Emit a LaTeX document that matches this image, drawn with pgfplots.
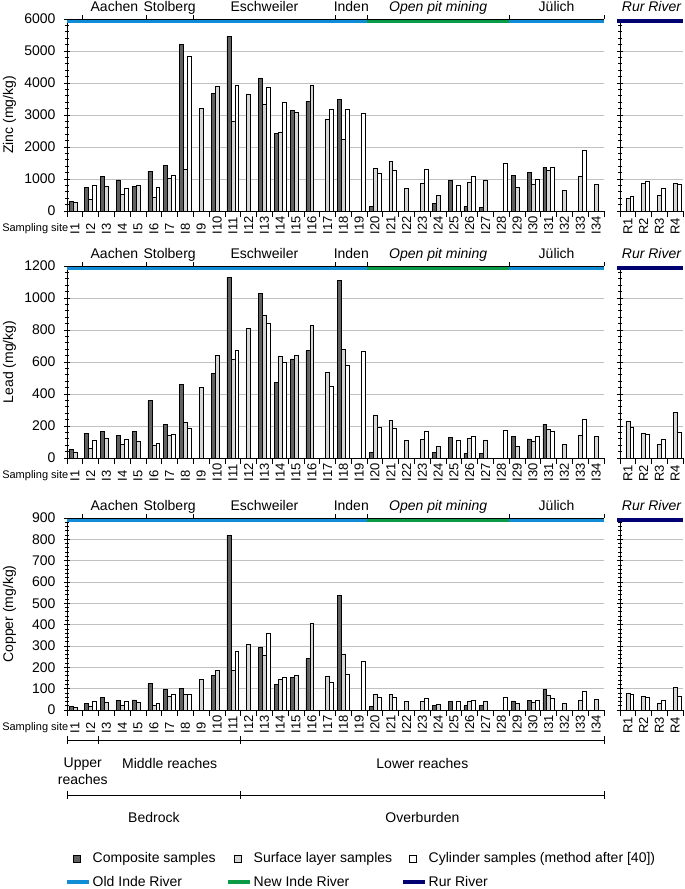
\documentclass[border=0pt]{standalone}
\usepackage{fontspec}
\setmainfont{Liberation Sans}
\usepackage{pgfplots}
\pgfplotsset{compat=1.18}
\definecolor{comp}{HTML}{606060}
\definecolor{surf}{HTML}{D6D6D6}
\definecolor{gridc}{HTML}{C0C0C0}
\definecolor{oldinde}{HTML}{118CD6}
\definecolor{newinde}{HTML}{0B9A46}
\definecolor{rurriver}{HTML}{000070}
\newcommand\fa{\fontsize{14bp}{17bp}\selectfont}
\newcommand\fb{\fontsize{13bp}{15bp}\selectfont}
\newcommand\fc{\fontsize{11bp}{13bp}\selectfont}

\pgfplotsset{
  panel/.style={
    scale only axis, anchor=south west, height=192bp,
    ymin=0, clip=false,
    ybar, bar width=0.25,
    axis x line*=bottom, axis y line*=left,
    axis line style={line width=0.8bp},
    ymajorgrids, major grid style={draw=gridc, line width=1bp},
    tick align=center, major tick length=6bp, minor tick length=4bp,
    tick style={black, line width=0.8bp},
    major x tick style={yshift=-3bp},
    minor y tick num=4,
    x tick label as interval,
    xticklabel style={font=\fb, yshift=-24bp, rotate=90, anchor=west},
    yticklabel style={font=\fa, xshift=-5bp},
    /pgf/number format/assume math mode=true,
    /pgf/number format/1000 sep={},
    every axis y label/.style={at={(axis description cs:0,0.5)}, xshift=-57.5bp, rotate=90, anchor=center, font=\fa},
  },
  ipanel/.style={panel, width=537bp, xmin=0.5, xmax=34.5,
    xtick={0.5,1.5,...,34.5},
    xticklabels={I1,I2,I3,I4,I5,I6,I7,I8,I9,I10,I11,I12,I13,I14,I15,I16,I17,
      I18,I19,I20,I21,I22,I23,I24,I25,I26,I27,I28,I29,I30,I31,I32,I33,I34}},
  rpanel/.style={panel, width=63bp, xmin=0.5, xmax=4.5,
    xtick={0.5,1.5,...,4.5}, xticklabels={R1,R2,R3,R4}, yticklabels={}},
  compbar/.style={fill=comp, draw=black, line width=0.6bp, bar shift=-0.25,
    legend image code/.code={\path[draw=none, fill=none] (0bp,-3.5bp) rectangle (22bp,3.5bp);
      \draw[fill=comp, draw=black, line width=0.6bp] (6bp,-3.5bp) rectangle (13bp,3.5bp);}},
  surfbar/.style={fill=surf, draw=black, line width=0.6bp, bar shift=0,
    legend image code/.code={\path[draw=none, fill=none] (0bp,-3.5bp) rectangle (22bp,3.5bp);
      \draw[fill=surf, draw=black, line width=0.6bp] (6bp,-3.5bp) rectangle (13bp,3.5bp);}},
  cylbar/.style={fill=white, draw=black, line width=0.6bp, bar shift=0.25,
    legend image code/.code={\path[draw=none, fill=none] (0bp,-3.5bp) rectangle (22bp,3.5bp);
      \draw[fill=white, draw=black, line width=0.6bp] (6bp,-3.5bp) rectangle (13bp,3.5bp);}},
  riverline/.style={legend image code/.code={\path[draw=none, fill=none] (0bp,-3.5bp) rectangle (22bp,3.5bp);
      \draw[#1, line width=4bp] (0bp,0bp) -- (22bp,0bp);}},
}

% river bands and town names along the top of an Inde panel
\newcommand\topdeco[1]{%
  \draw[oldinde, line width=4bp] ([yshift=-2bp]axis cs:0.5,#1) -- ([yshift=-2bp]axis cs:19.5,#1);
  \draw[newinde, line width=4bp] ([yshift=-2bp]axis cs:19.5,#1) -- ([yshift=-2bp]axis cs:28.5,#1);
  \draw[oldinde, line width=4bp] ([yshift=-2bp]axis cs:28.5,#1) -- ([yshift=-2bp]axis cs:34.5,#1);
  \draw[line width=0.8bp] (axis cs:0.5,#1) -- (axis cs:34.5,#1);
  \pgfplotsinvokeforeach{1,5,8,17,19,28,34}{\draw[line width=0.8bp] (axis cs:##1.5,#1) -- ([yshift=4bp]axis cs:##1.5,#1);}
  \node[font=\fa, anchor=base] at ([yshift=8bp]axis cs:3.5,#1) {Aachen};
  \node[font=\fa, anchor=base] at ([yshift=8bp]axis cs:7,#1) {Stolberg};
  \node[font=\fa, anchor=base] at ([yshift=8bp]axis cs:13,#1) {Eschweiler};
  \node[font=\fa, anchor=base] at ([yshift=8bp]axis cs:18.5,#1) {Inden};
  \node[font=\fa\itshape, anchor=base] at ([yshift=8bp]axis cs:24,#1) {Open pit mining};
  \node[font=\fa, anchor=base] at ([yshift=8bp]axis cs:31.5,#1) {Jülich};
  \node[font=\fc, anchor=east, inner sep=0pt] at ([xshift=1.5bp,yshift=-18bp]axis cs:0.5,0) {Sampling site};
}
\newcommand\rurdeco[1]{%
  \draw[rurriver, line width=4bp] ([xshift=-3bp,yshift=-2bp]axis cs:0.5,#1) -- ([yshift=-2bp]axis cs:4.5,#1);
  \node[font=\fa\itshape, anchor=base] at ([yshift=8bp]axis cs:2.5,#1) {Rur River};
}

\begin{document}
\begin{tikzpicture}
\path[use as bounding box] (0,0) rectangle (685bp,-889bp);

% ---------------- zinc ----------------
\begin{axis}[ipanel, at={(67bp,-211bp)}, ymax=6000, ytick={0,1000,...,6000}, ylabel={Zinc (mg/kg)}]
\addplot[compbar] coordinates {(1,300) (2,740) (3,1075) (4,970) (5,780) (6,1250) (7,1420) (8,5200) (10,3670) (11,5455) (13,4140) (14,2430) (15,3150) (16,3430) (18,3495) (20,135) (24,230) (25,950) (26,135) (27,115) (29,1105) (30,1210) (31,1375)};
\addplot[surfbar] coordinates {(1,260) (2,355) (3,770) (4,510) (5,810) (6,440) (7,1010) (8,1300) (9,3200) (10,3890) (11,2815) (12,3650) (13,3330) (14,2460) (15,3100) (16,3920) (17,2870) (18,2240) (20,1335) (21,1545) (22,700) (23,865) (24,480) (26,900) (27,960) (29,740) (30,825) (31,1260) (32,645) (33,1095) (34,825)};
\addplot[cylbar] coordinates {(2,790) (4,720) (6,730) (7,1115) (8,4840) (11,3920) (13,3860) (14,3410) (17,3180) (18,3170) (19,3045) (20,1180) (21,1285) (23,1295) (25,815) (26,1075) (28,1480) (30,990) (31,1375) (33,1890)};
\topdeco{6000}
\end{axis}
\begin{axis}[rpanel, at={(620bp,-211bp)}, ymax=6000, ytick={0,1000,...,6000}]
\addplot[surfbar] coordinates {(1,385) (2,865) (3,500) (4,865)};
\addplot[cylbar] coordinates {(1,450) (2,930) (3,700) (4,825)};
\rurdeco{6000}
\end{axis}

% ---------------- lead ----------------
\begin{axis}[ipanel, at={(67bp,-458bp)}, ymax=1200, ytick={0,200,...,1200}, ylabel={Lead (mg/kg)}]
\addplot[compbar] coordinates {(1,55) (2,155) (3,168) (4,140) (5,168) (6,360) (7,210) (8,458) (10,530) (11,1129) (13,1029) (14,473) (15,620) (16,673) (18,1112) (20,33) (24,35) (25,129) (26,29) (27,29) (29,133) (30,119) (31,210)};
\addplot[surfbar] coordinates {(1,38) (2,61) (3,121) (4,84) (5,107) (6,82) (7,142) (8,223) (9,443) (10,641) (11,619) (12,808) (13,894) (14,635) (15,641) (16,827) (17,535) (18,681) (20,269) (21,235) (22,108) (23,115) (24,73) (26,123) (27,113) (29,75) (30,104) (31,179) (32,84) (33,140) (34,136)};
\addplot[cylbar] coordinates {(2,113) (4,115) (6,92) (7,148) (8,183) (11,675) (13,840) (14,598) (17,448) (18,577) (19,667) (20,194) (21,188) (23,167) (25,113) (26,136) (28,171) (30,133) (31,167) (33,245)};
\topdeco{1200}
\end{axis}
\begin{axis}[rpanel, at={(620bp,-458bp)}, ymax=1200, ytick={0,200,...,1200}]
\addplot[surfbar] coordinates {(1,230) (2,154) (3,84) (4,283)};
\addplot[cylbar] coordinates {(1,192) (2,146) (3,119) (4,160)};
\rurdeco{1200}
\end{axis}

% ---------------- copper ----------------
\begin{axis}[ipanel, at={(67bp,-710bp)}, ymax=900, ytick={0,100,...,900}, ylabel={Copper (mg/kg)},
  legend columns=3,
  legend style={draw=none, fill=none, font=\fa, inner sep=0bp, row sep=9bp, column sep=0bp,
    nodes={inner sep=1.5bp}, cells={anchor=west},
    at={(axis description cs:0,0)}, anchor=north west, xshift=-2bp, yshift=-141bp}]
\addplot[compbar] coordinates {(1,18) (2,31) (3,58) (4,45) (5,47) (6,123) (7,97) (8,103) (10,162) (11,820) (13,292) (14,119) (15,152) (16,241) (18,537) (20,16) (24,20) (25,42) (26,20) (27,23) (29,43) (30,46) (31,96)};
\addlegendentry{\makebox[132bp][l]{Composite samples}}
\addplot[surfbar] coordinates {(1,14) (2,17) (3,37) (4,22) (5,34) (6,22) (7,64) (8,75) (9,145) (10,186) (11,184) (12,308) (13,258) (14,144) (15,162) (16,406) (17,156) (18,261) (20,72) (21,75) (22,39) (23,39) (24,25) (26,43) (27,42) (29,31) (30,37) (31,71) (32,31) (33,46) (34,48)};
\addlegendentry{\makebox[146bp][l]{Surface layer samples}}
\addplot[cylbar] coordinates {(2,39) (4,39) (6,33) (7,75) (8,75) (11,277) (13,358) (14,155) (17,131) (18,169) (19,227) (20,59) (21,61) (23,57) (25,39) (26,46) (28,60) (30,46) (31,56) (33,87)};
\addlegendentry{Cylinder samples (method after [40])}
\addlegendimage{riverline=oldinde}
\addlegendentry{Old Inde River}
\addlegendimage{riverline=newinde}
\addlegendentry{New Inde River}
\addlegendimage{riverline=rurriver}
\addlegendentry{Rur River}
\topdeco{900}
% reaches and geology brackets
\draw[line width=0.8bp] ([yshift=-30bp]axis cs:0.5,0) -- ([yshift=-30bp]axis cs:34.5,0);
\pgfplotsinvokeforeach{0,2,11,34}{\draw[line width=0.8bp] ([yshift=-26bp]axis cs:#1.5,0) -- ([yshift=-34bp]axis cs:#1.5,0);}
\node[font=\fa, align=center] at ([yshift=-61.5bp]axis cs:1.5,0) {Upper\\reaches};
\node[font=\fa] at ([yshift=-53bp]axis cs:7,0) {Middle reaches};
\node[font=\fa] at ([yshift=-53bp]axis cs:23,0) {Lower reaches};
\draw[line width=0.8bp] ([yshift=-85bp]axis cs:0.5,0) -- ([yshift=-85bp]axis cs:34.5,0);
\pgfplotsinvokeforeach{0,11,34}{\draw[line width=0.8bp] ([yshift=-81bp]axis cs:#1.5,0) -- ([yshift=-89bp]axis cs:#1.5,0);}
\node[font=\fa] at ([yshift=-107bp]axis cs:6,0) {Bedrock};
\node[font=\fa] at ([yshift=-107bp]axis cs:23,0) {Overburden};
\end{axis}
\begin{axis}[rpanel, at={(620bp,-710bp)}, ymax=900, ytick={0,100,...,900}]
\addplot[surfbar] coordinates {(1,76) (2,64) (3,33) (4,107)};
\addplot[cylbar] coordinates {(1,73) (2,60) (3,46) (4,65)};
\rurdeco{900}
\end{axis}
\end{tikzpicture}
\end{document}
